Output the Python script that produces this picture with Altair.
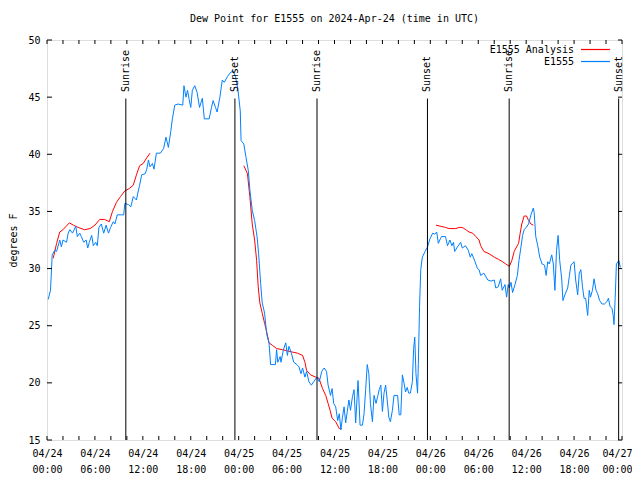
import altair as alt
import pandas as pd

# ---------------- data (hours after 2024-04-24 00:00 UTC) ----------------
blue_h = [0.15, 0.44, 0.65, 0.98, 1.2, 1.6, 1.8, 2.0, 2.45, 2.65, 2.86, 3.2, 3.6, 3.8, 4.1, 4.3, 4.6, 4.9,
          5.1, 5.3, 5.6, 5.8, 6.1, 6.3, 6.5, 6.8, 7.1, 7.4, 7.7, 7.96, 8.3, 8.5, 8.8, 9.3, 9.6, 9.75,
          10.2, 10.5, 10.8, 11.2, 11.4, 11.6, 11.85, 12.3, 12.5, 12.7, 12.9, 13.2, 13.4, 13.7, 14.2,
          14.6, 14.9, 15.2, 15.5, 15.7, 16.0, 16.4, 17.0, 17.15, 17.4, 17.6, 17.8, 18.0, 18.2, 18.5,
          18.8, 19.1, 19.45, 19.7, 20.3, 20.6, 20.8, 21.1, 21.3, 21.65, 21.95, 22.2, 22.6, 22.9, 23.3,
          23.6, 23.9, 24.2, 24.3, 24.65, 24.9, 25.2, 25.4, 25.7, 26.0, 26.3, 26.5, 26.75, 26.95, 27.25,
          27.5, 27.8, 28.0, 28.6, 28.75, 28.9, 29.2, 29.3, 29.6, 29.9, 30.1, 30.3, 30.6, 30.9, 31.3,
          31.55, 31.8, 32.0, 32.3, 32.5, 32.8, 33.1, 33.4, 33.8, 34.1, 34.4, 34.7, 35.0, 35.2, 35.5,
          35.7, 35.9, 36.15, 36.4, 36.6, 36.8, 37.0, 37.2, 37.4, 37.6, 37.8, 38.0, 38.25, 38.45, 38.65,
          38.95, 39.2, 39.5, 39.7, 39.9, 40.1, 40.3, 40.5, 40.75, 40.95, 41.2, 41.4, 41.6, 41.8, 42.0,
          42.2, 42.4, 42.6, 42.8, 43.0, 43.25, 43.45, 43.9, 44.1, 44.3, 44.5, 44.7, 44.9, 45.1, 45.3,
          45.5, 45.75, 45.9, 46.05, 46.2, 46.4, 46.5, 46.65, 46.8, 47.0, 47.35, 47.65, 47.95, 48.3,
          48.55, 48.8, 49.0, 49.25, 49.4, 49.9, 50.15, 50.45, 50.7, 50.9, 51.05, 51.4, 51.8, 52.0,
          52.4, 52.75, 53.0, 53.2, 53.6, 53.9, 54.1, 54.3, 54.7, 55.2, 55.6, 56.0, 56.2, 56.5, 56.8,
          57.0, 57.35, 57.55, 57.75, 57.9, 58.1, 58.3, 58.6, 58.9, 59.1, 59.35, 59.55, 59.75, 60.0,
          60.3, 60.6, 60.9, 61.0, 61.2, 61.45, 61.7, 62.0, 62.3, 62.5, 62.7, 62.9, 63.2, 63.4, 63.6,
          63.8, 64.0, 64.2, 64.45, 64.6, 64.9, 65.2, 65.4, 65.6, 66.0, 66.2, 66.45, 66.65, 66.85,
          67.05, 67.25, 67.45, 67.7, 67.9, 68.05, 68.3, 68.5, 68.75, 68.95, 69.2, 69.5, 69.8, 70.1,
          70.3, 70.5, 70.75, 70.9, 71.0, 71.15, 71.3, 71.6, 71.8]
blue_v = [27.3, 28.1, 31.2, 31.6, 31.5, 32.5, 31.9, 32.5, 32.3, 33.1, 33.4, 33.1, 33.7, 32.8, 33.1, 32.8, 32.3, 32.5,
          31.8, 32.3, 32.9, 32.0, 32.3, 32.0, 33.6, 33.9, 33.1, 33.8, 33.1, 33.6, 34.1, 33.9, 34.7, 34.7, 34.7, 35.7,
          35.6, 35.4, 36.3, 36.0, 36.7, 37.3, 38.2, 38.3, 38.7, 39.5, 38.9, 39.2, 38.7, 40.1, 40.1,
          40.5, 41.5, 40.6, 42.0, 43.1, 44.3, 44.4, 44.3, 46.0, 45.0, 45.6, 44.8, 44.1, 45.6, 46.0,
          45.4, 44.1, 44.9, 43.1, 43.1, 44.1, 44.7, 44.1, 43.7, 45.0, 46.5, 46.3, 46.8, 47.1, 47.3,
          46.8, 45.7, 43.8, 41.2, 40.9, 39.8, 38.6, 36.9, 35.1, 34.2, 32.8, 31.3, 28.7, 27.0, 26.1,
          24.3, 23.5, 21.6, 21.6, 22.9, 21.8, 22.3, 21.8, 22.9, 23.5, 22.4, 23.2, 22.6, 21.8, 21.6,
          21.4, 20.8, 21.3, 20.5, 21.0, 20.1, 19.8, 20.1, 20.5, 20.1, 21.0, 21.3, 21.0, 19.8, 18.9,
          19.5, 18.2, 17.9, 16.7, 17.3, 15.9, 17.0, 17.9, 16.5, 17.5, 18.5, 17.6, 18.8, 19.4, 16.5,
          20.2, 16.3, 16.3, 17.3, 19.4, 21.6, 20.8, 18.2, 16.6, 18.9, 18.2, 18.8, 19.4, 19.8, 17.5,
          19.1, 19.8, 18.5, 17.0, 16.6, 17.6, 18.9, 18.9, 17.2, 17.2, 20.7, 20.0, 19.2, 19.6, 19.1,
          19.1, 20.1, 22.9, 24.0, 20.8, 19.1, 21.7, 26.7, 29.9, 31.0, 31.5, 31.9, 32.6, 33.1,
          33.0, 33.2, 32.2, 32.6, 32.8, 32.8, 32.0, 32.5, 32.0, 32.3, 31.5, 31.9, 32.3, 31.8,
          32.0, 31.6, 31.0, 31.3, 30.6, 30.0, 29.9, 29.4, 29.6, 29.0, 28.9, 29.0, 28.3, 28.4, 29.1,
          28.1, 28.6, 27.5, 28.6, 28.3, 28.8, 27.9, 28.6, 29.4, 30.7, 31.9, 32.9, 33.4, 33.6,
          33.9, 34.7, 35.3, 34.9, 32.8, 32.0, 31.0, 30.4, 30.3, 29.4, 30.6, 30.4, 31.2, 30.4, 28.1,
          31.6, 32.9, 30.7, 29.1, 27.2, 27.8, 28.3, 29.3, 30.3, 30.6, 29.0, 27.7, 29.6, 29.9,
          28.4, 27.4, 27.4, 25.9, 28.1, 27.5, 28.1, 29.1, 28.1, 27.8, 27.2, 26.9, 26.9, 27.1,
          27.4, 26.7, 26.5, 25.9, 25.1, 27.5, 30.4, 30.7, 30.1]

red_h = [0.78, 1.2, 1.6, 2.0, 2.8, 3.3, 3.9, 4.7, 5.4, 6.0, 6.6, 7.2, 7.8, 8.2, 8.7, 9.2, 9.75, 10.3,
         10.8, 11.2, 11.6, 12.05, 12.5, 12.9,
         24.65, 25.1, 25.4, 25.7, 26.0, 26.25, 26.45, 26.65, 26.95, 27.25, 27.5, 27.8, 28.2, 28.75,
         29.5, 30.1, 30.7, 31.35, 32.0, 32.3, 32.5, 33.0, 33.65, 34.05, 34.5, 34.9, 35.2, 35.45,
         35.7, 36.15, 36.6, 36.9,
         48.7, 49.3, 49.9, 50.35, 51.2, 51.6, 52.0, 52.45, 52.85, 53.3, 53.7, 54.1, 54.3, 54.7,
         55.35, 56.0, 56.55, 57.05, 57.45, 57.9, 58.2, 58.5, 58.8, 59.05, 59.25, 59.45, 59.75,
         60.05, 60.3, 60.6, 60.9]
red_v = [30.9, 32.2, 33.2, 33.4, 34.0, 33.8, 33.6, 33.4, 33.5, 33.8, 34.3, 34.3, 34.1, 35.0, 35.8, 36.3, 36.8, 37.0,
         37.3, 38.2, 39.0, 39.2, 39.7, 40.1,
         39.0, 38.3, 36.3, 33.9, 32.5, 30.7, 28.4, 27.0, 26.1, 25.2, 24.5, 23.5, 23.3, 23.0,
         22.9, 22.8, 22.7, 22.6, 22.4, 21.8, 21.1, 20.7, 20.5, 20.4, 19.5, 18.9, 18.2, 17.6,
         16.9, 16.6, 16.0, 16.0,
         33.8, 33.7, 33.6, 33.5, 33.5, 33.6, 33.6, 33.4, 33.2, 33.1, 32.8, 32.5, 32.0, 31.5,
         31.3, 31.0, 30.8, 30.6, 30.4, 30.2, 30.7, 31.5, 31.9, 32.2, 33.1, 33.9, 34.6,
         34.6, 34.2, 33.9, 33.8]
red_seg = [0] * 24 + [1] * 32 + [2] * 31

sun_h = [9.87, 23.53, 33.81, 47.64, 57.87, 71.58]
sun_label = ["Sunrise", "Sunset", "Sunrise", "Sunset", "Sunrise", "Sunset"]

series_names = ["E1555 Analysis", "E1555"]
series_colors = ["#ff0000", "#0080ff"]

xtick_h = list(range(0, 73, 2))
xlabel_h = list(range(0, 73, 6))
ytick_v = [15, 20, 25, 30, 35, 40, 45, 50]

# ---------------- build ----------------
BASE = pd.Timestamp("2024-04-24T00:00:00Z").value // 10**6
HOUR = 3600 * 1000
def t(h):
    return BASE + h * HOUR

W, H = 575, 400
FONT = "DejaVu Sans Mono"

blue_df = pd.DataFrame({"t": [t(h) for h in blue_h], "v": blue_v,
                        "series": "E1555", "seg": 0})
red_df = pd.DataFrame({"t": [t(h) for h in red_h], "v": red_v,
                       "series": "E1555 Analysis", "seg": red_seg})
lines_df = pd.concat([red_df, blue_df], ignore_index=True)
lines_df["order"] = range(len(lines_df))

sun_df = pd.DataFrame({"t": [t(h) for h in sun_h], "label": sun_label})
xt_df = pd.DataFrame({"t": [t(h) for h in xtick_h]})
yt_df = pd.DataFrame({"v": ytick_v})

xscale = alt.Scale(type="utc", domain=[t(0), t(72)], nice=False)
yscale = alt.Scale(domain=[15, 50], nice=False, zero=False)
cscale = alt.Scale(domain=series_names, range=series_colors)

xaxis = alt.Axis(values=[t(h) for h in xlabel_h], ticks=False, tickSize=0, domain=False, grid=False,
                 labelExpr="[utcFormat(datum.value, '%m/%d'), utcFormat(datum.value, '%H:%M')]",
                 labelLineHeight=16, labelPadding=8, labelFont=FONT, labelFontSize=10,
                 labelColor="black", labelFlush=False, labelOverlap=False, title=None,
                 labelOffset={"condition": {"test": f"datum.value >= {t(72)}", "value": -5}, "value": 0})
yaxis = alt.Axis(values=ytick_v, ticks=False, tickSize=0, domain=False, grid=False,
                 labelPadding=7, labelFont=FONT, labelFontSize=10, labelColor="black",
                 title="degrees F", titleFont=FONT, titleFontSize=10, titleFontWeight="normal",
                 titleColor="black", titleAngle=270, titleX=-34, titleY=200,
                 titleAlign="center", titleBaseline="middle")

X = alt.X("t:T", scale=xscale, axis=xaxis)
Y = alt.Y("v:Q", scale=yscale, axis=yaxis)

lines = alt.Chart(lines_df).mark_line(strokeWidth=1, interpolate="linear").encode(
    x=X, y=Y,
    color=alt.Color("series:N", scale=cscale, legend=None),
    detail="seg:N",
    order="order:Q",
)

sun_rules = alt.Chart(sun_df).mark_rule(color="black", strokeWidth=1).encode(
    x=X, y=alt.value(58.5), y2=alt.value(H))
sun_text = alt.Chart(sun_df).mark_text(angle=270, align="left", baseline="middle", font=FONT,
                                       fontSize=10, color="black").encode(
    x=X, y=alt.value(52), text="label:N")

xt_bottom = alt.Chart(xt_df).mark_rule(color="black").encode(
    x=X, y=alt.value(H), y2=alt.value(H - 4))
xt_top = alt.Chart(xt_df).mark_rule(color="black").encode(
    x=X, y=alt.value(0), y2=alt.value(4))
yt_left = alt.Chart(yt_df).mark_rule(color="black").encode(
    y=Y, x=alt.value(0), x2=alt.value(5))
yt_right = alt.Chart(yt_df).mark_rule(color="black").encode(
    y=Y, x=alt.value(W), x2=alt.value(W - 4))

leg_layers = []
for i, name in enumerate(series_names):
    ld = pd.DataFrame({"series": [name]})
    yy = 10 + 12 * i
    leg_layers.append(alt.Chart(ld).mark_text(align="right", baseline="middle", font=FONT,
                                              fontSize=10, color="black").encode(
        x=alt.value(527), y=alt.value(yy), text="series:N"))
    leg_layers.append(alt.Chart(ld).mark_rule(strokeWidth=1.2).encode(
        x=alt.value(534), x2=alt.value(563), y=alt.value(yy - 0.5),
        color=alt.Color("series:N", scale=cscale, legend=None)))

chart = alt.layer(lines, sun_rules, sun_text, xt_bottom, xt_top, yt_left, yt_right, *leg_layers).properties(
    width=W, height=H,
    title=alt.Title("Dew Point for E1555 on 2024-Apr-24 (time in UTC)", font=FONT, fontSize=10,
                    fontWeight="normal", color="black", anchor="middle", offset=11),
    padding={"left": 39, "top": 32, "right": 10, "bottom": 40},
    autosize=alt.AutoSizeParams(type="none"),
).configure_view(stroke="black", strokeWidth=1).configure(font=FONT, background="white")

chart.save("out.html", embed_options={"renderer": "svg", "actions": False})
